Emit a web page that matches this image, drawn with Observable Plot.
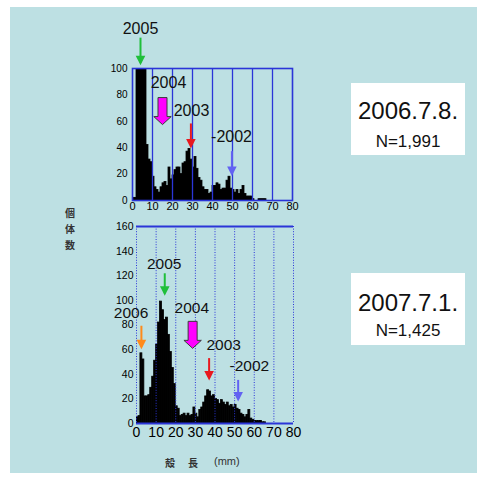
<!DOCTYPE html>
<html>
<head>
<meta charset="utf-8">
<script src="https://cdn.jsdelivr.net/npm/d3@7"></script>
<script src="https://cdn.jsdelivr.net/npm/@observablehq/plot@0.6"></script>
<style>
  html, body { margin: 0; padding: 0; background: #fff; }
  #page { position: relative; width: 487px; height: 481px; overflow: hidden;
          font-family: "Liberation Sans", Arial, sans-serif; }
  #panel { position: absolute; left: 10px; top: 7px; width: 467px; height: 466px; background: #bde0e3; }
  .chart { position: absolute; }
  .box { position: absolute; left: 351px; width: 114px; height: 72px; background: #fff; color: #111; }
  .box .date { position: absolute; left: 0; right: 0; text-align: center; font-size: 24px; line-height: 24px; }
  .box .n { position: absolute; left: 0; right: 0; text-align: center; font-size: 17px; line-height: 17px; }
  .cjk { position: absolute; font-family: "Noto Sans CJK JP", sans-serif; font-size: 10px; color: #333; font-weight: bold; }
  .unit { position: absolute; font-size: 11px; color: #333; }
</style>
</head>
<body>
<div id="page">
  <div id="panel"></div>
  <div id="chart2006" class="chart" style="left:90px; top:10px;"></div>
  <div id="chart2007" class="chart" style="left:90px; top:215px;"></div>

  <div class="box" style="top:83px;">
    <div class="date" style="top:16px;">2006.7.8.</div>
    <div class="n" style="top:50px;">N=1,991</div>
  </div>
  <div class="box" style="top:273px;">
    <div class="date" style="top:18px;">2007.7.1.</div>
    <div class="n" style="top:49px;">N=1,425</div>
  </div>

  <div class="cjk" style="left:65px; top:205px;">個</div>
  <div class="cjk" style="left:65px; top:221px;">体</div>
  <div class="cjk" style="left:65px; top:237px;">数</div>

  <div class="cjk" style="left:165px; top:455px;">殻</div>
  <div class="cjk" style="left:188px; top:455px;">長</div>
  <div class="unit" style="left:214px; top:455px;">(mm)</div>
</div>

<script>
// Shell length classes, 1 mm wide: each entry is the lower bound (mm)
const lengthClasses = d3.range(0, 80);

// Individuals per length class, survey of 2006.7.8. (N=1,991)
const counts2006 = [
  2, 2, 150, 290, 320, 250, 140, 42, 31, 29,
  18, 10, 8, 6, 10, 13, 14, 11, 25, 16,
  19, 23, 25, 25, 20, 28, 29, 37, 39, 31,
  25, 33, 24, 17, 15, 10, 8, 8, 5, 6,
  11, 11, 13, 12, 8, 9, 9, 15, 18, 9,
  8, 6, 8, 5, 8, 11, 5, 3, 3, 3,
  1, 0, 0, 1, 1, 1, 1, 0, 0, 0,
  0, 0, 0, 0, 0, 0, 0, 0, 0, 0
];

// Individuals per length class, survey of 2007.7.1. (N=1,425)
const counts2007 = [
  5, 6, 57, 52, 22, 22, 23, 29, 38, 51,
  64, 82, 99, 92, 84, 86, 72, 58, 45, 32,
  14, 12, 6, 7, 8, 6, 8, 6, 7, 13,
  8, 5, 11, 13, 17, 22, 27, 26, 22, 23,
  20, 19, 16, 19, 17, 15, 17, 14, 15, 13,
  15, 12, 11, 8, 7, 5, 7, 11, 4, 3,
  2, 2, 2, 2, 1, 1, 0, 0, 0, 0,
  0, 0, 0, 0, 0, 0, 0, 0, 0, 0
];

const xTicks = [0, 10, 20, 30, 40, 50, 60, 70, 80];
const yTicks2006 = [0, 20, 40, 60, 80, 100];
const yTicks2007 = [0, 20, 40, 60, 80, 100, 120, 140, 160];

// Year-class annotations: label, label position, arrow position (mm, count)
const cohorts2006 = ["2005", "2004", "2003", "-2002"];
const cohortLabelX2006 = [4, 18, 29.5, 49.5];
const cohortLabelY2006 = [130, 89, 68, 48];
const cohortArrowX2006 = [4, 15, 29.2, 49.7];
const cohortArrowTop2006 = [123, 78, 58, 37];
const cohortArrowTip2006 = [104, 57.5, 41, 20];

const cohorts2007 = ["2006", "2005", "2004", "2003", "-2002"];
const cohortLabelX2007 = [-2.8, 14.1, 28.2, 44.4, 57.5];
const cohortLabelY2007 = [90, 129.8, 94, 63.5, 46.5];
const cohortArrowX2007 = [2.5, 14.4, 28.6, 37, 51.8];
const cohortArrowTop2007 = [79, 121.6, 82.4, 52.7, 35];
const cohortArrowTip2007 = [62, 105.4, 61.6, 36.5, 19.5];

const cohortColor = {
  "2006": "#ff8a1a",
  "2005": "#1fbf3a",
  "2004": "#ff00ff",
  "2003": "#e8191f",
  "-2002": "#6262f2"
};
const frameBlue = "#2b35d8";

// Downward arrowhead with its tip just below the anchor point
const arrowHead = {
  draw(context, size) {
    const s = Math.sqrt(size / Math.PI) / 10;
    context.moveTo(0, 2 * s);
    context.lineTo(-4.8 * s, -7.5 * s);
    context.lineTo(4.8 * s, -7.5 * s);
    context.closePath();
  }
};

// Broad block arrow (shaft + wide flat head), centred on the anchor point
const blockArrow = {
  draw(context, size) {
    const s = Math.sqrt(size / Math.PI) / 10;
    context.moveTo(-4.5 * s, -13.5 * s);
    context.lineTo(4.5 * s, -13.5 * s);
    context.lineTo(4.5 * s, 5.5 * s);
    context.lineTo(8.7 * s, 5.5 * s);
    context.lineTo(0, 13.5 * s);
    context.lineTo(-8.7 * s, 5.5 * s);
    context.lineTo(-4.5 * s, 5.5 * s);
    context.closePath();
  }
};

function annotationMarks(labels, lx, ly, ax, aTop, aTip, fontSize) {
  const rows = labels.map((label, i) => ({
    label, lx: lx[i], ly: ly[i], ax: ax[i], top: aTop[i], tip: aTip[i],
    color: cohortColor[label]
  }));
  const thin = rows.filter(d => d.label !== "2004");
  const block = rows.filter(d => d.label === "2004");
  return [
    Plot.ruleX(thin, {x: "ax", y1: "top", y2: "tip", stroke: "color", strokeWidth: 2}),
    Plot.dot(thin, {x: "ax", y: "tip", symbol: arrowHead, r: 10, fill: "color", stroke: null}),
    Plot.dot(block, {x: "ax", y: d => (d.top + d.tip) / 2, symbol: blockArrow, r: 10,
                     fill: "color", stroke: "#3a3a3a", strokeWidth: 1}),
    Plot.text(rows, {x: "lx", y: "ly", text: "label", fontSize, fill: "#111",
                     fontFamily: "Liberation Sans, Arial, sans-serif"})
  ];
}

function rowsOf(counts) {
  return lengthClasses.map((x, i) => ({x0: x, x1: x + 1, n: counts[i]}));
}

const baseStyle = {
  fontFamily: "Liberation Sans, Arial, sans-serif",
  background: "transparent",
  color: "#000",
  overflow: "visible"
};

const barOptions = {x1: "x0", x2: "x1", y: "n", fill: "#000", stroke: "#000", strokeWidth: 0.8,
                    inset: 0, clip: true};

// 2006.7.8. — y axis truncated at 100
const plot2006 = Plot.plot({
  width: 220, height: 205,
  marginLeft: 42, marginRight: 18, marginTop: 58, marginBottom: 15,
  style: baseStyle,
  x: {domain: [0, 80]},
  y: {domain: [0, 100]},
  marks: [
    Plot.rectY(rowsOf(counts2006), barOptions),
    Plot.ruleX(xTicks.slice(1, -1), {stroke: frameBlue, strokeWidth: 1.3}),
    Plot.frame({stroke: frameBlue, strokeWidth: 1.6}),
    Plot.axisX({ticks: xTicks, tickSize: 0, tickPadding: 2, fontSize: 11, label: null}),
    Plot.axisY({ticks: yTicks2006, tickSize: 0, tickPadding: 5, fontSize: 10, label: null}),
    ...annotationMarks(cohorts2006, cohortLabelX2006, cohortLabelY2006,
                       cohortArrowX2006, cohortArrowTop2006, cohortArrowTip2006, 16)
  ]
});
document.getElementById("chart2006").appendChild(plot2006);

// 2007.7.1.
const plot2007 = Plot.plot({
  width: 220, height: 230,
  marginLeft: 46, marginRight: 17, marginTop: 11, marginBottom: 22,
  style: baseStyle,
  x: {domain: [0, 80]},
  y: {domain: [0, 160]},
  marks: [
    Plot.rectY(rowsOf(counts2007), barOptions),
    Plot.ruleX(xTicks, {stroke: frameBlue, strokeWidth: 1, strokeDasharray: "1,1.6"}),
    Plot.ruleY([0, 160], {stroke: frameBlue, strokeWidth: 1.8}),
    Plot.axisX({ticks: xTicks, tickSize: 0, tickPadding: 4, fontSize: 14, label: null}),
    Plot.axisY({ticks: yTicks2007, tickSize: 0, tickPadding: 3, fontSize: 10.5, label: null}),
    ...annotationMarks(cohorts2007, cohortLabelX2007, cohortLabelY2007,
                       cohortArrowX2007, cohortArrowTop2007, cohortArrowTip2007, 15.5)
  ]
});
document.getElementById("chart2007").appendChild(plot2007);
</script>
</body>
</html>
